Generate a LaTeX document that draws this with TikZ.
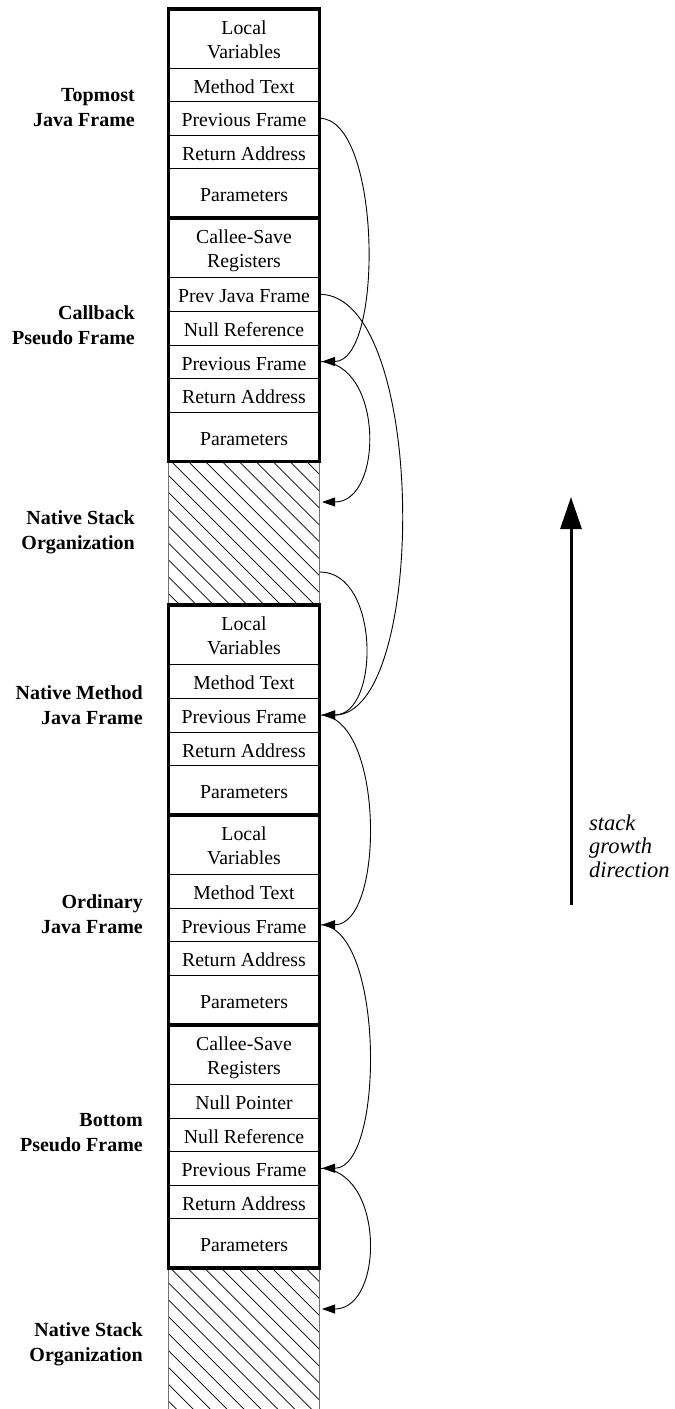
\documentclass[tikz,border=0pt]{standalone}
\usepackage{fontspec}
\setmainfont{Liberation Serif}
\usetikzlibrary{arrows.meta}
\begin{document}
\begin{tikzpicture}[x=1pt,y=-1pt,
  cell/.style={draw=black, line width=1pt, rectangle, inner sep=0pt, outer sep=0pt,
    minimum width=151pt, anchor=north, font=\fontsize{19.8}{24}\selectfont,
    text height=22pt, text depth=5pt},
  cellii/.style={cell, text height=18pt, text depth=26.4pt},
  hatchbox/.style={rectangle, inner sep=0pt, outer sep=0pt, minimum width=151pt, anchor=north},
  hatchside/.style={draw=black!55, line width=1pt},
  hatchline/.style={draw=black, line width=0.7pt},
  frameline/.style={draw=black, line width=3.5pt},
  lbl/.style={anchor=base east, inner sep=0pt, font=\fontsize{20}{25}\selectfont\bfseries},
  link/.style={draw=black, line width=0.9pt, -{Triangle[length=13pt,width=9pt]}},
  growth/.style={draw=black, line width=3pt, -{Triangle[length=32pt,width=21pt]}},
  growtext/.style={anchor=base west, inner sep=0pt, font=\fontsize{22.5}{23.5}\selectfont\itshape}
]
\useasboundingbox (0,0) rectangle (675,1409);

% ---------- Topmost Java Frame ----------
\node[cellii, minimum height=59pt]   (lv1) at (244,9)     {\begin{tabular}[t]{@{}c@{}}Local\\Variables\end{tabular}};
\node[cell,   minimum height=33.5pt] (mt1) at (244,68)    {Method Text};
\node[cell,   minimum height=33.5pt] (pf1) at (244,101.5) {Previous Frame};
\node[cell,   minimum height=33.5pt] (ra1) at (244,135)   {Return Address};
\node[cell,   minimum height=49.5pt] (pa1) at (244,168.5) {Parameters};

% ---------- Callback Pseudo Frame ----------
\node[cellii, minimum height=59.5pt] (cs2) at (244,218)   {\begin{tabular}[t]{@{}c@{}}Callee-Save\\Registers\end{tabular}};
\node[cell,   minimum height=33.5pt] (pj2) at (244,277.5) {Prev Java Frame};
\node[cell,   minimum height=34pt]   (nr2) at (244,311)   {Null Reference};
\node[cell,   minimum height=33pt]   (pf2) at (244,345)   {Previous Frame};
\node[cell,   minimum height=34pt]   (ra2) at (244,378)   {Return Address};
\node[cell,   minimum height=49.5pt] (pa2) at (244,412)   {Parameters};

% ---------- Native stack 1 ----------
\node[hatchbox, minimum height=143.5pt] (ns1) at (244,461.5) {};
\begin{scope}
  \clip (ns1.north west) rectangle (ns1.south east);
  \foreach \k in {-10,...,10} \draw[hatchline] (171.5+16.9*\k,461.5) -- ++(170,170);
\end{scope}
\draw[hatchside] (ns1.north west) -- (ns1.south west);
\draw[hatchside] (ns1.north east) -- (ns1.south east);

% ---------- Native Method Java Frame ----------
\node[cellii, minimum height=59.5pt] (lv3) at (244,605)   {\begin{tabular}[t]{@{}c@{}}Local\\Variables\end{tabular}};
\node[cell,   minimum height=33.5pt] (mt3) at (244,664.5) {Method Text};
\node[cell,   minimum height=34pt]   (pf3) at (244,698)   {Previous Frame};
\node[cell,   minimum height=33.5pt] (ra3) at (244,732)   {Return Address};
\node[cell,   minimum height=49.5pt] (pa3) at (244,765.5) {Parameters};

% ---------- Ordinary Java Frame ----------
\node[cellii, minimum height=59pt]   (lv4) at (244,815)   {\begin{tabular}[t]{@{}c@{}}Local\\Variables\end{tabular}};
\node[cell,   minimum height=34pt]   (mt4) at (244,874)   {Method Text};
\node[cell,   minimum height=33.5pt] (pf4) at (244,908)   {Previous Frame};
\node[cell,   minimum height=33.5pt] (ra4) at (244,941.5) {Return Address};
\node[cell,   minimum height=50pt]   (pa4) at (244,975)   {Parameters};

% ---------- Bottom Pseudo Frame ----------
\node[cellii, minimum height=59pt]   (cs5) at (244,1025)   {\begin{tabular}[t]{@{}c@{}}Callee-Save\\Registers\end{tabular}};
\node[cell,   minimum height=34pt]   (np5) at (244,1084)   {Null Pointer};
\node[cell,   minimum height=33.5pt] (nr5) at (244,1118)   {Null Reference};
\node[cell,   minimum height=33.5pt] (pf5) at (244,1151.5) {Previous Frame};
\node[cell,   minimum height=33.5pt] (ra5) at (244,1185)   {Return Address};
\node[cell,   minimum height=49.5pt] (pa5) at (244,1218.5) {Parameters};

% ---------- Native stack 2 ----------
\node[hatchbox, minimum height=141pt] (ns2) at (244,1268) {};
\begin{scope}
  \clip (ns2.north west) rectangle (ns2.south east);
  \foreach \k in {-10,...,10} \draw[hatchline] (170.5+16.9*\k,1268) -- ++(170,170);
\end{scope}
\draw[hatchside] (ns2.north west) -- (ns2.south west);
\draw[hatchside] (ns2.north east) -- (ns2.south east);

% ---------- thick frame borders ----------
\draw[frameline] (lv1.north west) rectangle (pa1.south east);
\draw[frameline] (cs2.north west) rectangle (pa2.south east);
\draw[frameline] (lv3.north west) rectangle (pa3.south east);
\draw[frameline] (lv4.north west) rectangle (pa4.south east);
\draw[frameline] (cs5.north west) rectangle (pa5.south east);

% ---------- left labels ----------
\node[lbl] (l1) at (135,101)  {\begin{tabular}[t]{@{}r@{}}Topmost\\Java Frame\end{tabular}};
\node[lbl] (l2) at (135,319)  {\begin{tabular}[t]{@{}r@{}}Callback\\Pseudo Frame\end{tabular}};
\node[lbl] (l3) at (135,524)  {\begin{tabular}[t]{@{}r@{}}Native Stack\\Organization\end{tabular}};
\node[lbl] (l4) at (143,699)  {\begin{tabular}[t]{@{}r@{}}Native Method\\Java Frame\end{tabular}};
\node[lbl] (l5) at (143,908)  {\begin{tabular}[t]{@{}r@{}}Ordinary\\Java Frame\end{tabular}};
\node[lbl] (l6) at (143,1126) {\begin{tabular}[t]{@{}r@{}}Bottom\\Pseudo Frame\end{tabular}};
\node[lbl] (l7) at (143,1336) {\begin{tabular}[t]{@{}r@{}}Native Stack\\Organization\end{tabular}};

% ---------- pointer curves ----------
\coordinate (h1in)  at (322,502);
\coordinate (h1out) at (320,572);
\coordinate (h2in)  at (322,1309);

\draw[link] (pf1.east) .. controls +(62,0) and +(62,0) .. ([xshift=2.5pt]pf2.east);
\draw[link] (pj2.east) .. controls +(108,0) and +(106,0) .. ([xshift=2.5pt]pf3.east);
\draw[link] (pf2.east) .. controls +(64,0) and +(62,0) .. (h1in);
\draw[link] (h1out) .. controls +(60,0) and +(58,0) .. ([xshift=2.5pt]pf3.east);
\draw[link] (pf3.east) .. controls +(65,0) and +(63,0) .. ([xshift=2.5pt]pf4.east);
\draw[link] (pf4.east) .. controls +(65,0) and +(63,0) .. ([xshift=2.5pt]pf5.east);
\draw[link] (pf5.east) .. controls +(65,0) and +(63,0) .. (h2in);

% ---------- stack growth arrow ----------
\coordinate (gbot) at (571,905);
\coordinate (gtop) at (571,497);
\draw[growth] (gbot) -- (gtop);
\node[growtext] (gt) at (589,830) {\begin{tabular}[t]{@{}l@{}}stack\\growth\\direction\end{tabular}};
\end{tikzpicture}
\end{document}
